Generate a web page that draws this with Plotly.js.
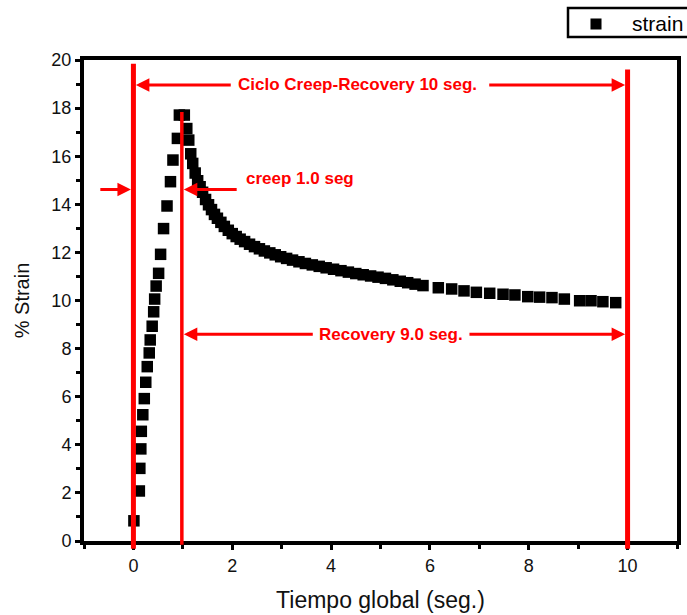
<!DOCTYPE html>
<html>
<head>
<meta charset="utf-8">
<script src="https://cdn.plot.ly/plotly-3.0.1.min.js"></script>
<style>html,body{margin:0;padding:0;background:#fff;}#chart{width:687px;height:615px;}</style>
</head>
<body>
<div id="chart"></div>
<script>
// Creep phase (0 - 1 s)
const creepTime = [0.01, 0.12, 0.13, 0.15, 0.16, 0.19, 0.22, 0.25, 0.28, 0.32, 0.34, 0.38, 0.41, 0.43, 0.46, 0.51, 0.55, 0.61, 0.68, 0.75, 0.80, 0.89, 0.93, 1.03];
const creepStrain = [0.84, 2.08, 3.02, 3.83, 4.56, 5.25, 5.92, 6.60, 7.25, 7.82, 8.36, 8.93, 9.53, 10.06, 10.60, 11.13, 11.92, 12.99, 13.93, 14.94, 15.84, 16.74, 17.71, 17.71];
// Recovery phase (1 - 10 s)
const recTime = [1.08, 1.12, 1.16, 1.20, 1.25, 1.30, 1.35, 1.40, 1.46, 1.52, 1.58, 1.64, 1.70, 1.77, 1.84, 1.92, 2.00, 2.08, 2.16, 2.25, 2.35, 2.45, 2.55, 2.65, 2.76, 2.87, 2.98, 3.10, 3.22, 3.35, 3.48, 3.62, 3.76, 3.90, 4.05, 4.20, 4.35, 4.50, 4.65, 4.80, 4.95, 5.10, 5.25, 5.40, 5.55, 5.70, 5.86, 6.17, 6.44, 6.69, 6.94, 7.21, 7.48, 7.72, 7.98, 8.22, 8.47, 8.72, 9.03, 9.26, 9.50, 9.76];
const recStrain = [17.15, 16.67, 16.10, 15.70, 15.30, 14.98, 14.73, 14.50, 14.20, 13.98, 13.78, 13.58, 13.42, 13.25, 13.08, 12.92, 12.78, 12.66, 12.55, 12.45, 12.34, 12.24, 12.15, 12.06, 11.98, 11.90, 11.82, 11.75, 11.68, 11.61, 11.54, 11.48, 11.42, 11.36, 11.30, 11.24, 11.18, 11.12, 11.07, 11.02, 10.97, 10.92, 10.86, 10.80, 10.74, 10.68, 10.62, 10.53, 10.48, 10.40, 10.34, 10.30, 10.26, 10.23, 10.16, 10.14, 10.12, 10.06, 9.99, 9.99, 9.95, 9.91];

const seriesName = 'strain';
const xTitle = 'Tiempo global (seg.)';
const yTitle = '% Strain';
const cycleLabel = 'Ciclo Creep-Recovery 10 seg.';
const creepLabel = 'creep 1.0 seg';
const recoveryLabel = 'Recovery 9.0 seg.';
// phase boundaries (s)
const tStart = 0, tCreepEnd = 1, tEnd = 10;

const time = creepTime.concat(recTime);
const strain = creepStrain.concat(recStrain);

const FONT = 'Liberation Sans, Arial, sans-serif';
const RED = '#ff0000';

const trace = {
  x: time, y: strain, type: 'scatter', mode: 'markers', name: seriesName,
  marker: {symbol: 'square', size: 11.5, color: '#000'}
};

function arrow(xHead, xTail, y) {
  return {x: xHead, y: y, ax: xTail, ay: y, xref: 'x', yref: 'y', axref: 'x', ayref: 'y',
    text: '', showarrow: true, arrowhead: 2, arrowsize: 0.9, arrowwidth: 3, arrowcolor: RED, standoff: 0, startstandoff: 0};
}
function label(text, x, y) {
  return {x: x, y: y, xref: 'x', yref: 'y', text: '<b>' + text + '</b>', showarrow: false,
    font: {family: FONT, size: 17, color: RED}};
}

const layout = {
  width: 687, height: 615,
  margin: {l: 84, r: 10, t: 60, b: 74},
  paper_bgcolor: '#fff', plot_bgcolor: '#fff',
  font: {family: FONT, color: '#111'},
  showlegend: false,
  xaxis: {
    range: [-1, 11], dtick: 2, tick0: 0, showgrid: false, zeroline: false,
    showline: true, linecolor: '#000', linewidth: 4, mirror: true,
    ticks: 'outside', ticklen: 5, tickwidth: 3, tickcolor: '#000',
    minor: {dtick: 1, ticks: 'outside', ticklen: 4, tickwidth: 3, tickcolor: '#000', showgrid: false},
    tickfont: {family: FONT, size: 18, color: '#111'},
    title: {text: xTitle, font: {family: FONT, size: 23, color: '#111'}, standoff: 18}
  },
  yaxis: {
    range: [0, 20], dtick: 2, tick0: 0, showgrid: false, zeroline: false,
    showline: true, linecolor: '#000', linewidth: 4, mirror: true,
    ticks: 'outside', ticklen: 5, tickwidth: 3, tickcolor: '#000',
    minor: {dtick: 1, ticks: 'outside', ticklen: 4, tickwidth: 3, tickcolor: '#000', showgrid: false},
    tickfont: {family: FONT, size: 18, color: '#111'},
    title: {text: yTitle, font: {family: FONT, size: 20, color: '#111'}, standoff: 17}
  },
  shapes: [
    {type: 'line', layer: 'above', xref: 'x', yref: 'paper', x0: tStart, x1: tStart, y0: -0.016, y1: 0.992, line: {color: RED, width: 5}},
    {type: 'line', layer: 'above', xref: 'x', yref: 'paper', x0: tCreepEnd - 0.02, x1: tCreepEnd - 0.02, y0: -0.008, y1: 0.892, line: {color: RED, width: 3.5}},
    {type: 'line', layer: 'above', xref: 'x', yref: 'paper', x0: tEnd, x1: tEnd, y0: -0.016, y1: 0.98, line: {color: RED, width: 5}},
    // legend box and key
    {type: 'rect', xref: 'paper', yref: 'paper', x0: 0.8162, x1: 1.03, y0: 1.0478, y1: 1.1081, line: {color: '#000', width: 2.5}, fillcolor: '#fff'},
    {type: 'rect', xref: 'paper', yref: 'paper', x0: 0.8541, x1: 0.8727, y0: 1.0634, y1: 1.0863, line: {width: 0}, fillcolor: '#000'}
  ],
  annotations: [
    arrow(tStart + 0.05, 2.0, 18.96),
    arrow(tEnd - 0.05, 7.17, 18.96),
    label(cycleLabel, 4.53, 19.0),
    arrow(tStart - 0.05, -0.7, 14.62),
    arrow(tCreepEnd + 0.02, 2.12, 14.62),
    label(creepLabel, 3.37, 15.09),
    arrow(tCreepEnd + 0.02, 3.66, 8.6),
    arrow(tEnd - 0.05, 6.77, 8.6),
    label(recoveryLabel, 5.21, 8.6),
    {x: 0.9207, y: 1.0755, xref: 'paper', yref: 'paper', xanchor: 'left', yanchor: 'middle', text: seriesName,
      showarrow: false, font: {family: FONT, size: 21, color: '#000'}}
  ]
};

Plotly.newPlot('chart', [trace], layout, {displayModeBar: false, staticPlot: true});
</script>
</body>
</html>
